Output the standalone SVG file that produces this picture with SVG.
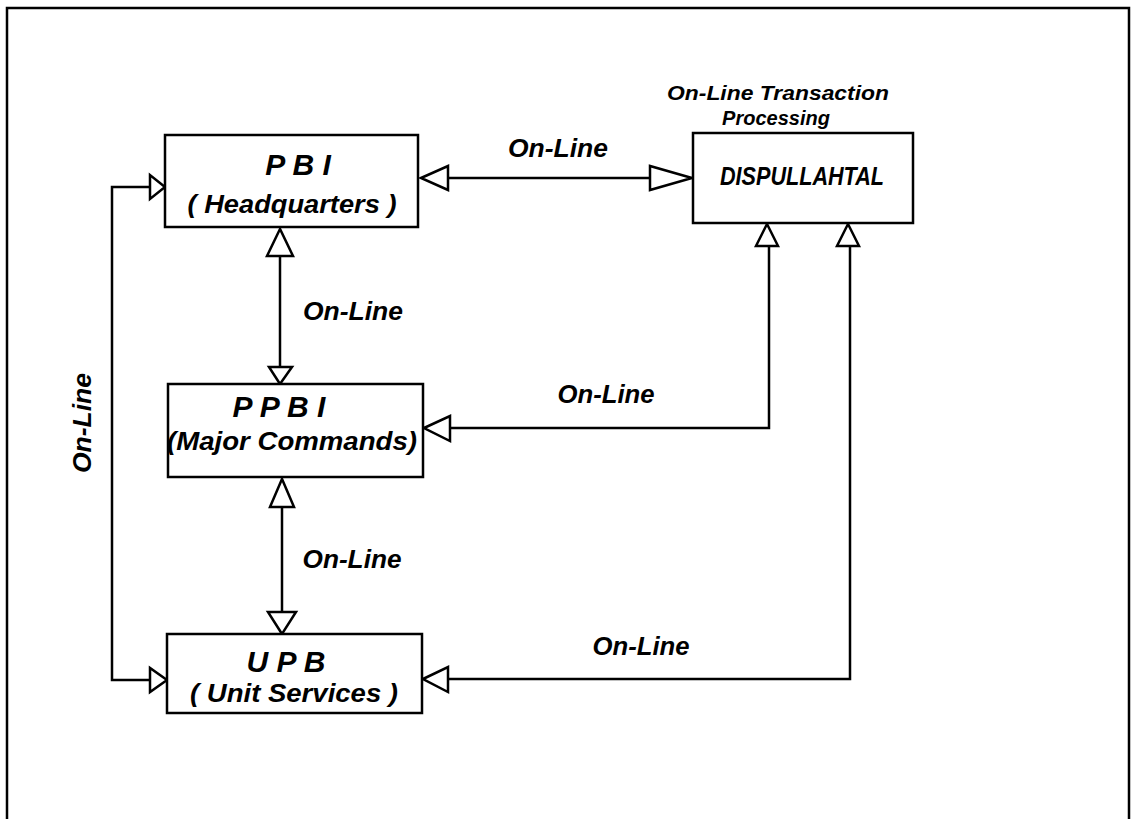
<svg xmlns="http://www.w3.org/2000/svg" width="1135" height="819" viewBox="0 0 1135 819">
<style>
.box{fill:#fff;stroke:#000;stroke-width:2.5}
.ln{fill:none;stroke:#000;stroke-width:2.5}
.ah{fill:#fff;stroke:#000;stroke-width:2.5;stroke-linejoin:miter}
text{font-family:"Liberation Sans",Arial,sans-serif;font-weight:bold;font-style:italic;fill:#000}
.t1{font-size:30px}
.t2{font-size:25px}
.lb{font-size:25px}
.tp{font-size:20px}
</style>
<rect width="1135" height="819" fill="#fff"/>
<path class="ln" d="M7,819 V8 H1129 V819" stroke-width="2"/>
<g id="connectors">
<path class="ln" d="M150,187 H112 V680 H150"/>
<polygon class="ah" points="165,187 150,175 150,199"/>
<polygon class="ah" points="167,680 150,668 150,692"/>
<path class="ln" d="M448,178 H650"/>
<polygon class="ah" points="421,178 448,166 448,190"/>
<polygon class="ah" points="692,178 650,166 650,190"/>
<path class="ln" d="M280,256 V367"/>
<polygon class="ah" points="280,229 267,256 293,256"/>
<polygon class="ah" points="280,384 269,367 292,367"/>
<path class="ln" d="M282,507 V612"/>
<polygon class="ah" points="282,479 270,507 294,507"/>
<polygon class="ah" points="282,634 268,612 296,612"/>
<path class="ln" d="M450,428 H769 V246"/>
<polygon class="ah" points="424,428 450,416 450,441"/>
<polygon class="ah" points="767,224 756,246 778,246"/>
<path class="ln" d="M448,679 H850 V246"/>
<polygon class="ah" points="423,679 448,667 448,692"/>
<polygon class="ah" points="848,224 837,246 859,246"/>
<text class="lb" x="558" y="157" text-anchor="middle" textLength="100" lengthAdjust="spacingAndGlyphs">On-Line</text>
<text class="lb" x="353" y="320" text-anchor="middle" textLength="100" lengthAdjust="spacingAndGlyphs">On-Line</text>
<text class="lb" x="606" y="403" text-anchor="middle" textLength="97" lengthAdjust="spacingAndGlyphs">On-Line</text>
<text class="lb" x="352" y="568" text-anchor="middle" textLength="99" lengthAdjust="spacingAndGlyphs">On-Line</text>
<text class="lb" x="641" y="655" text-anchor="middle" textLength="97" lengthAdjust="spacingAndGlyphs">On-Line</text>
<text class="lb" transform="translate(91,423) rotate(-90)" x="0" y="0" text-anchor="middle" textLength="100" lengthAdjust="spacingAndGlyphs">On-Line</text>
</g>
<g id="disp">
<text class="tp" x="778" y="100" text-anchor="middle" textLength="222" lengthAdjust="spacingAndGlyphs">On-Line Transaction</text>
<text class="tp" x="776" y="125" text-anchor="middle">Processing</text>
<rect class="box" x="693" y="133" width="220" height="90"/>
<text class="t2" x="720" y="185" textLength="164" lengthAdjust="spacingAndGlyphs">DISPULLAHTAL</text>
</g>
<g id="pbi">
<rect class="box" x="165" y="135" width="253" height="92"/>
<text class="t1" x="298" y="175" text-anchor="middle">P B I</text>
<text class="t2" x="292" y="213" text-anchor="middle" textLength="209" lengthAdjust="spacingAndGlyphs">( Headquarters )</text>
</g>
<g id="ppbi">
<rect class="box" x="168" y="384" width="255" height="93"/>
<text class="t1" x="279" y="417" text-anchor="middle">P P B I</text>
<text class="t2" x="292" y="450" text-anchor="middle" textLength="250" lengthAdjust="spacingAndGlyphs">(Major Commands)</text>
</g>
<g id="upb">
<rect class="box" x="167" y="634" width="255" height="79"/>
<text class="t1" x="286" y="672" text-anchor="middle">U P B</text>
<text class="t2" x="294" y="702" text-anchor="middle" textLength="208" lengthAdjust="spacingAndGlyphs">( Unit Services )</text>
</g>
</svg>
